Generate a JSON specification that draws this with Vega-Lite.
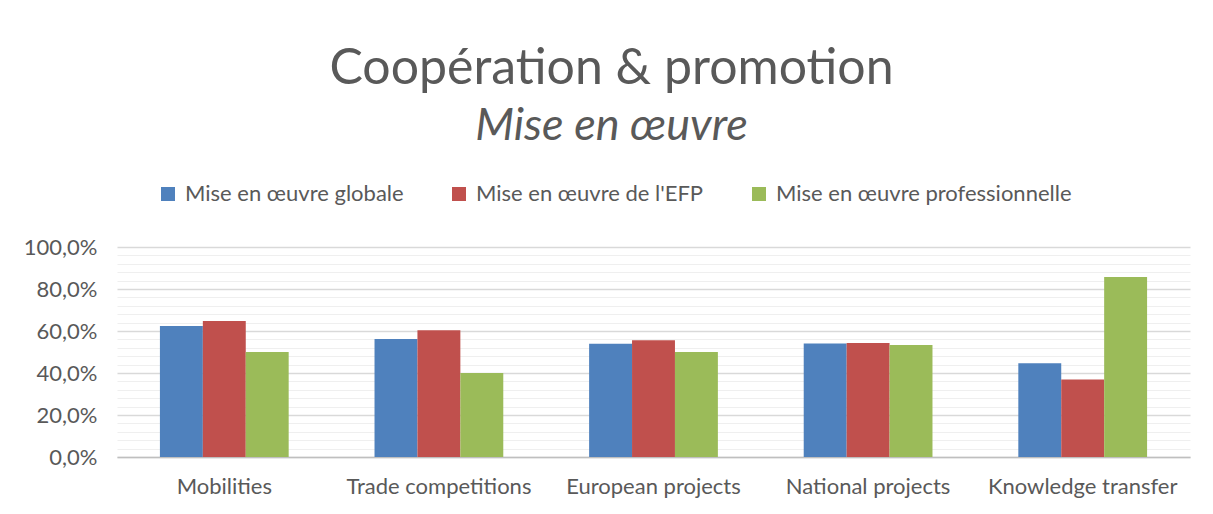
{
  "$schema": "https://vega.github.io/schema/vega-lite/v6.json",
  "width": 1073,
  "height": 210,
  "autosize": {"type": "none"},
  "padding": {"left": 117, "top": 247, "right": 23, "bottom": 57},
  "background": "#ffffff",
  "title": {
    "text": "Coopération & promotion",
    "subtitle": "Mise en œuvre",
    "anchor": "middle",
    "frame": "group",
    "dx": -42,
    "offset": 34,
    "font": "Lato",
    "fontSize": 50,
    "fontWeight": "normal",
    "color": "#595959",
    "subtitleFont": "Lato",
    "subtitleFontSize": 45,
    "subtitleFontStyle": "italic",
    "subtitleColor": "#595959",
    "subtitlePadding": 10
  },
  "data": {
    "values": [
      {"category": "Mobilities", "series": "Mise en œuvre globale", "value": 62.4},
      {"category": "Mobilities", "series": "Mise en œuvre de l'EFP", "value": 64.8},
      {"category": "Mobilities", "series": "Mise en œuvre professionnelle", "value": 50.0},
      {"category": "Trade competitions", "series": "Mise en œuvre globale", "value": 56.2},
      {"category": "Trade competitions", "series": "Mise en œuvre de l'EFP", "value": 60.4},
      {"category": "Trade competitions", "series": "Mise en œuvre professionnelle", "value": 40.0},
      {"category": "European projects", "series": "Mise en œuvre globale", "value": 53.9},
      {"category": "European projects", "series": "Mise en œuvre de l'EFP", "value": 55.6},
      {"category": "European projects", "series": "Mise en œuvre professionnelle", "value": 50.0},
      {"category": "National projects", "series": "Mise en œuvre globale", "value": 54.0},
      {"category": "National projects", "series": "Mise en œuvre de l'EFP", "value": 54.3},
      {"category": "National projects", "series": "Mise en œuvre professionnelle", "value": 53.3},
      {"category": "Knowledge transfer", "series": "Mise en œuvre globale", "value": 44.7},
      {"category": "Knowledge transfer", "series": "Mise en œuvre de l'EFP", "value": 36.9},
      {"category": "Knowledge transfer", "series": "Mise en œuvre professionnelle", "value": 85.7}
    ]
  },
  "mark": {"type": "bar"},
  "encoding": {
    "x": {
      "field": "category",
      "type": "nominal",
      "sort": ["Mobilities", "Trade competitions", "European projects", "National projects", "Knowledge transfer"],
      "scale": {"paddingInner": 0.4, "paddingOuter": 0.2},
      "axis": {
        "title": null,
        "labelAngle": 0,
        "labelFont": "Lato",
        "labelFontSize": 22,
        "labelColor": "#595959",
        "labelPadding": 19,
        "labelLimit": 400,
        "ticks": false,
        "domain": true,
        "domainColor": "#bfbfbf",
        "domainWidth": 1.5,
        "grid": false
      }
    },
    "xOffset": {
      "field": "series",
      "type": "nominal",
      "sort": ["Mise en œuvre globale", "Mise en œuvre de l'EFP", "Mise en œuvre professionnelle"]
    },
    "y": {
      "field": "value",
      "type": "quantitative",
      "scale": {"domain": [0, 100], "nice": false},
      "axis": {
        "title": null,
        "values": [0, 4, 8, 12, 16, 20, 24, 28, 32, 36, 40, 44, 48, 52, 56, 60, 64, 68, 72, 76, 80, 84, 88, 92, 96, 100],
        "labelExpr": "datum.value % 20 === 0 ? replace(format(datum.value, '.1f'), '.', ',') + '%' : ''",
        "labelOverlap": false,
        "labelFont": "Lato",
        "labelFontSize": 22,
        "labelColor": "#595959",
        "labelPadding": 20,
        "ticks": false,
        "domain": false,
        "grid": true,
        "gridColor": {"condition": {"test": "datum.value % 20 === 0", "value": "#d9d9d9"}, "value": "#efefef"},
        "gridWidth": {"condition": {"test": "datum.value % 20 === 0", "value": 1.5}, "value": 1.2}
      }
    },
    "color": {
      "field": "series",
      "type": "nominal",
      "sort": ["Mise en œuvre globale", "Mise en œuvre de l'EFP", "Mise en œuvre professionnelle"],
      "scale": {
        "domain": ["Mise en œuvre globale", "Mise en œuvre de l'EFP", "Mise en œuvre professionnelle"],
        "range": ["#4f81bd", "#c0504d", "#9bbb59"]
      },
      "legend": {
        "title": null,
        "orient": "none",
        "legendX": 40,
        "legendY": -64,
        "direction": "horizontal",
        "symbolType": "square",
        "symbolSize": 196,
        "symbolStrokeWidth": 0,
        "symbolOpacity": 1,
        "labelFont": "Lato",
        "labelFontSize": 22,
        "labelColor": "#595959",
        "labelOffset": 6,
        "columnPadding": 44,
        "labelLimit": 400
      }
    }
  },
  "config": {
    "view": {"stroke": null}
  }
}
